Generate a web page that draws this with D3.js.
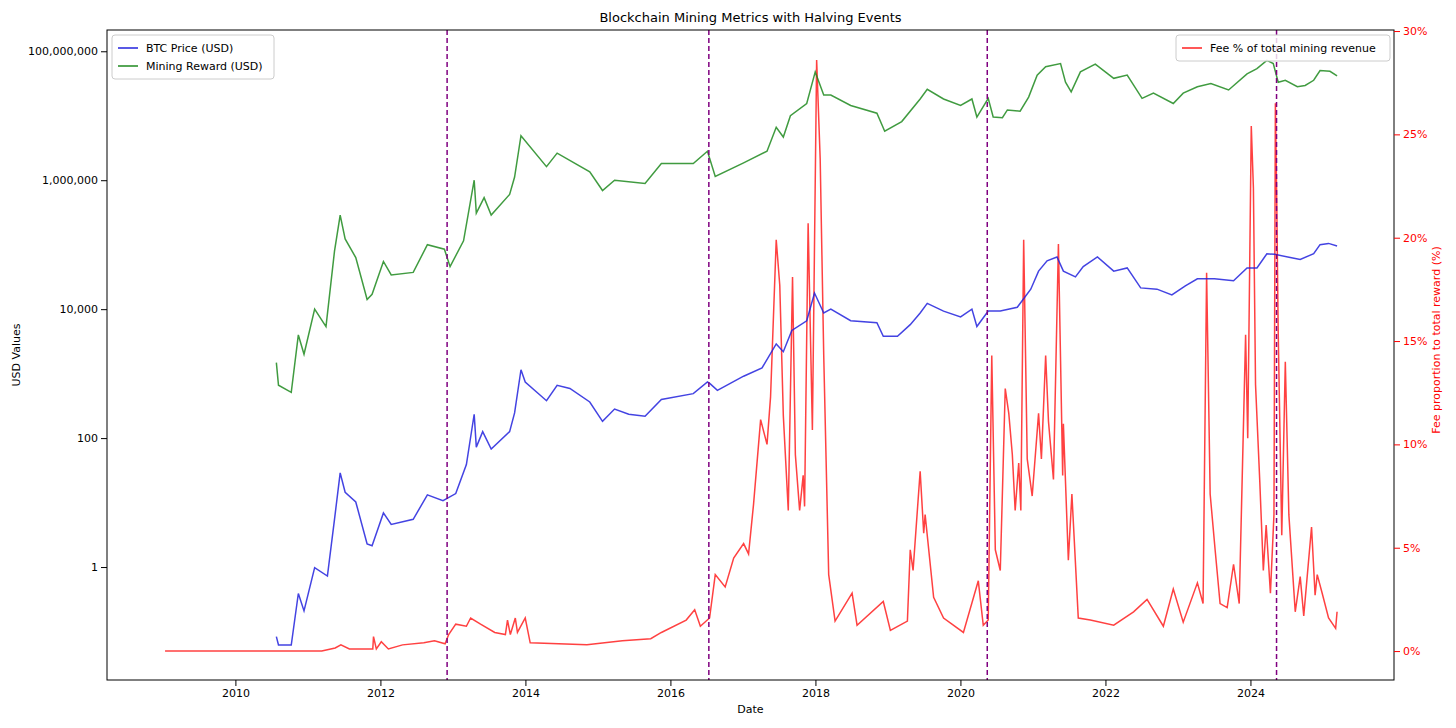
<!DOCTYPE html><html><head><meta charset="utf-8">
<script src="https://cdn.jsdelivr.net/npm/d3@7"></script>
<style>body{margin:0;background:#fff}text{font-family:"DejaVu Sans",sans-serif}</style></head><body>
<svg id="c" width="1456" height="728"></svg>
<script>
// Series: [approximate time reading, value]; time readings are
// converted to calendar years with readToYear() below.
// BTC price, as [time, log10(USD)]
const priceSeries=[[2010.62,-1.08],[2010.65,-1.21],[2010.83,-1.21],[2010.93,-0.41],[2011.01,-0.68],[2011.16,-0.01],[2011.34,-0.14],[2011.44,0.74],[2011.52,1.46],[2011.59,1.16],[2011.74,1.01],[2011.9,0.36],[2011.97,0.33],[2012.13,0.84],[2012.24,0.66],[2012.55,0.74],[2012.75,1.12],[2012.97,1.03],[2013.15,1.14],[2013.3,1.59],[2013.41,2.37],[2013.44,1.86],[2013.53,2.1],[2013.65,1.83],[2013.91,2.1],[2013.98,2.39],[2014.07,3.06],[2014.13,2.87],[2014.43,2.58],[2014.58,2.82],[2014.76,2.77],[2015.04,2.56],[2015.22,2.26],[2015.39,2.45],[2015.59,2.37],[2015.82,2.34],[2016.05,2.6],[2016.5,2.69],[2016.7,2.87],[2016.74,2.84],[2016.84,2.74],[2017.21,2.96],[2017.47,3.09],[2017.67,3.46],[2017.77,3.34],[2017.89,3.67],[2018.1,3.82],[2018.21,4.25],[2018.34,3.94],[2018.44,4.0],[2018.72,3.82],[2019.09,3.79],[2019.18,3.58],[2019.38,3.58],[2019.56,3.76],[2019.7,3.94],[2019.8,4.09],[2020.03,3.97],[2020.27,3.88],[2020.43,4.0],[2020.5,3.73],[2020.66,3.97],[2020.83,3.97],[2021.07,4.03],[2021.26,4.31],[2021.37,4.59],[2021.49,4.75],[2021.63,4.81],[2021.72,4.59],[2021.89,4.5],[2022.0,4.66],[2022.2,4.81],[2022.43,4.59],[2022.62,4.64],[2022.81,4.33],[2023.04,4.31],[2023.25,4.22],[2023.44,4.36],[2023.61,4.47],[2023.85,4.47],[2024.12,4.44],[2024.31,4.64],[2024.45,4.64],[2024.59,4.86],[2024.7,4.85],[2024.92,4.8],[2025.06,4.77],[2025.25,4.86],[2025.34,5.0],[2025.46,5.02],[2025.58,4.98]];
// Mining reward, as [time, log10(USD)]
const rewardSeries=[[2010.62,3.17],[2010.65,2.82],[2010.83,2.71],[2010.93,3.6],[2011.01,3.3],[2011.16,4.0],[2011.32,3.73],[2011.44,4.9],[2011.52,5.46],[2011.59,5.09],[2011.74,4.8],[2011.9,4.15],[2011.97,4.23],[2012.13,4.74],[2012.24,4.53],[2012.55,4.57],[2012.75,5.0],[2012.99,4.93],[2013.07,4.66],[2013.26,5.06],[2013.41,6.0],[2013.44,5.49],[2013.55,5.73],[2013.65,5.46],[2013.91,5.78],[2013.98,6.05],[2014.07,6.69],[2014.43,6.21],[2014.58,6.42],[2015.04,6.13],[2015.22,5.84],[2015.39,6.0],[2015.82,5.95],[2016.05,6.26],[2016.5,6.26],[2016.7,6.45],[2016.81,6.06],[2017.21,6.27],[2017.54,6.45],[2017.67,6.82],[2017.77,6.67],[2017.87,7.0],[2018.1,7.19],[2018.22,7.68],[2018.34,7.32],[2018.44,7.32],[2018.72,7.16],[2019.09,7.04],[2019.2,6.76],[2019.44,6.91],[2019.7,7.26],[2019.8,7.41],[2020.03,7.26],[2020.27,7.16],[2020.43,7.26],[2020.5,6.98],[2020.66,7.27],[2020.73,6.98],[2020.86,6.97],[2020.93,7.09],[2021.11,7.07],[2021.23,7.29],[2021.35,7.63],[2021.47,7.76],[2021.68,7.81],[2021.75,7.52],[2021.83,7.37],[2021.96,7.68],[2022.17,7.8],[2022.43,7.58],[2022.62,7.63],[2022.83,7.27],[2022.99,7.35],[2023.27,7.19],[2023.41,7.35],[2023.61,7.45],[2023.8,7.5],[2024.05,7.4],[2024.31,7.65],[2024.45,7.73],[2024.59,7.86],[2024.68,7.81],[2024.75,7.52],[2024.85,7.55],[2025.02,7.45],[2025.13,7.47],[2025.25,7.55],[2025.34,7.7],[2025.48,7.69],[2025.58,7.62]];
// Fee share of total mining revenue, [time, %]
const feeSeries=[[2009.05,0],[2011.26,0],[2011.45,0.15],[2011.53,0.3],[2011.65,0.1],[2011.98,0.1],[2011.99,0.7],[2012.03,0.1],[2012.1,0.45],[2012.2,0.1],[2012.4,0.3],[2012.7,0.4],[2012.85,0.5],[2013.0,0.35],[2013.05,0.8],[2013.15,1.3],[2013.3,1.2],[2013.36,1.6],[2013.5,1.3],[2013.7,0.9],[2013.85,0.8],[2013.88,1.5],[2013.92,0.8],[2013.99,1.6],[2014.02,0.9],[2014.13,1.6],[2014.2,0.4],[2015.0,0.3],[2015.5,0.5],[2015.9,0.6],[2016.05,0.9],[2016.4,1.5],[2016.52,2.0],[2016.6,1.2],[2016.73,1.6],[2016.81,3.7],[2016.95,3.1],[2017.07,4.5],[2017.21,5.2],[2017.28,4.7],[2017.35,7.1],[2017.45,11.2],[2017.54,10],[2017.59,12.3],[2017.67,19.9],[2017.72,17.7],[2017.77,11.4],[2017.84,6.8],[2017.9,18.1],[2017.94,9.5],[2018.0,6.8],[2018.05,8.5],[2018.07,7],[2018.12,20.7],[2018.18,10.7],[2018.24,28.6],[2018.29,23.8],[2018.34,14.3],[2018.41,3.7],[2018.5,1.45],[2018.74,2.8],[2018.81,1.25],[2019.18,2.4],[2019.28,1.0],[2019.52,1.45],[2019.56,4.9],[2019.6,3.9],[2019.7,8.7],[2019.75,5.7],[2019.77,6.6],[2019.89,2.6],[2020.03,1.6],[2020.31,0.9],[2020.52,3.4],[2020.59,1.25],[2020.66,1.5],[2020.71,14.3],[2020.76,4.9],[2020.83,3.9],[2020.9,12.7],[2020.95,11.5],[2021.0,9.5],[2021.04,6.8],[2021.09,9.1],[2021.12,6.8],[2021.16,19.9],[2021.21,9.3],[2021.28,7.5],[2021.37,11.5],[2021.41,9.3],[2021.47,14.3],[2021.51,11.1],[2021.58,8.3],[2021.65,19.7],[2021.71,8.5],[2021.72,11],[2021.79,4.4],[2021.84,7.6],[2021.93,1.6],[2022.1,1.5],[2022.43,1.25],[2022.71,1.9],[2022.9,2.5],[2023.13,1.2],[2023.27,3.0],[2023.41,1.4],[2023.61,3.3],[2023.69,2.3],[2023.74,18.3],[2023.79,7.6],[2023.86,4.9],[2023.93,2.3],[2024.03,2.1],[2024.12,4.2],[2024.2,2.3],[2024.29,15.3],[2024.32,10.3],[2024.37,25.4],[2024.4,22.4],[2024.43,12.9],[2024.49,8.2],[2024.54,3.9],[2024.58,6.1],[2024.64,2.8],[2024.69,6.6],[2024.71,26.5],[2024.73,21.5],[2024.75,15.4],[2024.8,5.6],[2024.85,14],[2024.9,6.6],[2024.99,1.9],[2025.06,3.6],[2025.11,1.7],[2025.22,6],[2025.27,2.7],[2025.3,3.7],[2025.37,2.8],[2025.46,1.6],[2025.56,1.1],[2025.58,1.9]];
const halvings=[2012.92,2016.53,2020.37,2024.36];
const xTicks=[2010,2012,2014,2016,2018,2020,2022,2024];
const yTicks=[1,100,1e4,1e6,1e8];
const y2Ticks=[0,5,10,15,20,25,30];
// calibration of the time readings above to calendar years
const readToYear=t=>2010+((t-2010)*70.9-3)/72.5;

const svg=d3.select("#c"),L=107,R=1394,T=30,B=680;
const x=d3.scaleLinear().domain([2008.229,2025.98]).range([L,R]);
const y=d3.scaleLog().domain([Math.pow(10,-1.752),Math.pow(10,8.33)]).range([B,T]);
const y2=d3.scaleLinear().domain([-1.4,30.05]).range([B,T]);
const lnLog=d3.line().x(d=>x(readToYear(d[0]))).y(d=>y(Math.pow(10,d[1])));
const lnLin=d3.line().x(d=>x(readToYear(d[0]))).y(d=>y2(d[1]));
svg.append("path").datum(feeSeries).attr("d",lnLin).attr("fill","none").attr("stroke","#ff2020").attr("stroke-width",1.5).attr("opacity",0.85);
svg.append("path").datum(rewardSeries).attr("d",lnLog).attr("fill","none").attr("stroke","#1f8a1f").attr("stroke-width",1.5).attr("opacity",0.85);
svg.append("path").datum(priceSeries).attr("d",lnLog).attr("fill","none").attr("stroke","#2222dd").attr("stroke-width",1.5).attr("opacity",0.85);
halvings.forEach(h=>svg.append("line").attr("x1",x(h)).attr("x2",x(h)).attr("y1",T).attr("y2",B).attr("stroke","#800080").attr("stroke-width",1.5).attr("stroke-dasharray","5,3"));
svg.append("rect").attr("x",L).attr("y",T).attr("width",R-L).attr("height",B-T).attr("fill","none").attr("stroke","#000");
const ax=svg.append("g").attr("transform",`translate(0,${B})`).call(d3.axisBottom(x).tickValues(xTicks).tickFormat(d3.format("d")).tickSizeOuter(0));
const ay=svg.append("g").attr("transform",`translate(${L},0)`).call(d3.axisLeft(y).tickValues(yTicks).tickFormat(d3.format(",")).tickSizeOuter(0));
const ay2=svg.append("g").attr("transform",`translate(${R},0)`).call(d3.axisRight(y2).tickValues(y2Ticks).tickFormat(d=>d+"%").tickSizeOuter(0));
[ax,ay,ay2].forEach(g=>{g.select(".domain").remove();g.selectAll("text").attr("font-size",11);});
ay2.selectAll("text").attr("fill","red");ay2.selectAll("line").attr("stroke","red");
svg.append("text").attr("x",(L+R)/2).attr("y",22).attr("text-anchor","middle").attr("font-size",13).text("Blockchain Mining Metrics with Halving Events");
svg.append("text").attr("x",(L+R)/2).attr("y",713).attr("text-anchor","middle").attr("font-size",11).text("Date");
svg.append("text").attr("transform","translate(20,355) rotate(-90)").attr("text-anchor","middle").attr("font-size",11).text("USD Values");
svg.append("text").attr("transform","translate(1440,340) rotate(-90)").attr("text-anchor","middle").attr("font-size",11).attr("fill","red").text("Fee proportion to total reward (%)");
function legend(x0,y0,w,items){svg.append("rect").attr("x",x0).attr("y",y0).attr("width",w).attr("height",items.length*18+8).attr("fill","#fff").attr("fill-opacity",0.8).attr("stroke","#ccc").attr("rx",3);
items.forEach((it,i)=>{const yy=y0+13+i*18;svg.append("line").attr("x1",x0+6).attr("x2",x0+26).attr("y1",yy).attr("y2",yy).attr("stroke",it[1]).attr("stroke-width",1.5);
svg.append("text").attr("x",x0+34).attr("y",yy+4).attr("font-size",11).text(it[0]);});}
legend(112,35,162,[["BTC Price (USD)","#2222dd"],["Mining Reward (USD)","#1f8a1f"]]);
legend(1176,35,214,[["Fee % of total mining revenue","#ff2020"]]);
</script></body></html>
